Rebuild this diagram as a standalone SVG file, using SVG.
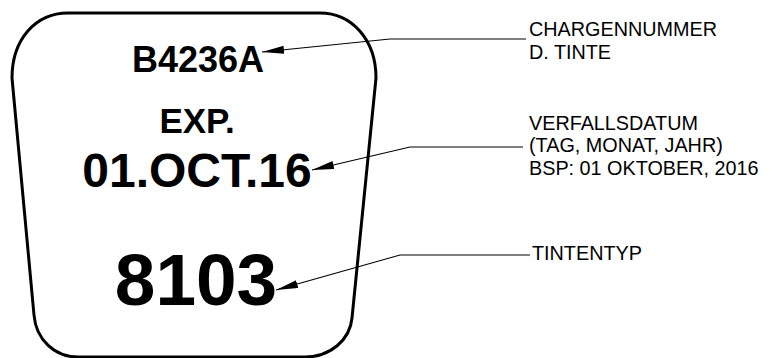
<svg xmlns="http://www.w3.org/2000/svg" width="772" height="358" viewBox="0 0 772 358">
<style>
.big{font-family:"Liberation Sans",Arial,sans-serif;font-weight:bold;text-anchor:middle;fill:#000}
.lbl{font-family:"Liberation Sans",Arial,sans-serif;font-size:19.8px;fill:#000}
.lead{fill:none;stroke:#000;stroke-width:1.2}
</style>
<defs>
<marker id="ah" viewBox="0 0 22 8" refX="22" refY="4" markerWidth="22" markerHeight="8" markerUnits="userSpaceOnUse" orient="auto">
<path d="M0,0 L22,4 L0,8 Z" fill="#000"/>
</marker>
</defs>
<g id="label">
<path d="M68,13 L320,13 C352,13 376,40 376,78 L352,318 C350,340 330,357 305,357 L78,357 C55,357 36,340 34,315 L12,78 C12,40 35,13 68,13 Z" fill="none" stroke="#000" stroke-width="3"/>
<text class="big" x="198" y="72" font-size="36">B4236A</text>
<text class="big" x="197" y="133" font-size="35">EXP.</text>
<text class="big" x="197" y="187" font-size="48">01.OCT.16</text>
<text class="big" x="196" y="305" font-size="73">8103</text>
</g>
<g id="connectors">
<path class="lead" d="M526,39 L390,39 L262,52" marker-end="url(#ah)"/>
<path class="lead" d="M523,147 L410,147 L312,170" marker-end="url(#ah)"/>
<path class="lead" d="M530,255 L400,255 L276,290" marker-end="url(#ah)"/>
</g>
<g id="callout-charge">
<text class="lbl" x="529" y="36">CHARGENNUMMER</text>
<text class="lbl" x="529" y="59">D. TINTE</text>
</g>
<g id="callout-verfall">
<text class="lbl" x="529" y="130">VERFALLSDATUM</text>
<text class="lbl" x="529" y="152">(TAG, MONAT, JAHR)</text>
<text class="lbl" x="529" y="175">BSP: 01 OKTOBER, 2016</text>
</g>
<g id="callout-typ">
<text class="lbl" x="532" y="260">TINTENTYP</text>
</g>
</svg>
